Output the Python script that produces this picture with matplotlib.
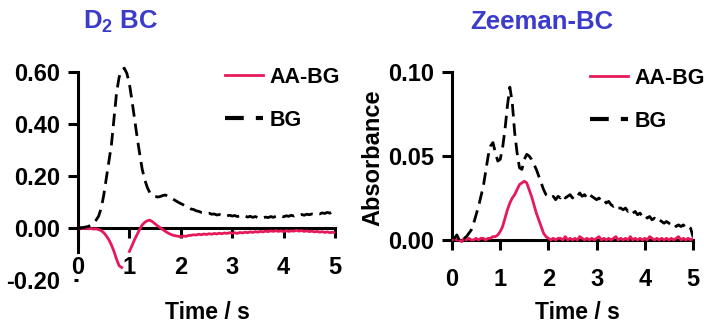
import numpy as np
import matplotlib
matplotlib.use("Agg")
import matplotlib.pyplot as plt

plt.rcParams["font.family"] = ["Liberation Sans", "DejaVu Sans"]
plt.rcParams["font.weight"] = "bold"
plt.rcParams["mathtext.fontset"] = "custom"
plt.rcParams["mathtext.rm"] = "Liberation Sans:bold"
plt.rcParams["mathtext.bf"] = "Liberation Sans:bold"

# ---- data -------------------------------------------------------------
time_s = np.linspace(0.0, 5.0, 101)          # 0.05 s sampling
time_ticks = [0, 1, 2, 3, 4, 5]

# D2 background correction
d2_bg = [
    0.000, 0.001, 0.002, 0.004, 0.006, 0.011, 0.019, 0.030, 0.045, 0.075,
    0.125, 0.190, 0.255, 0.320, 0.420, 0.520, 0.580, 0.605, 0.615, 0.595,
    0.555, 0.490, 0.420, 0.350, 0.285, 0.225, 0.185, 0.155, 0.135, 0.125,
    0.122, 0.119, 0.121, 0.125, 0.127, 0.122, 0.119, 0.111, 0.105, 0.099,
    0.094, 0.089, 0.083, 0.080, 0.073, 0.071, 0.066, 0.064, 0.060, 0.059,
    0.056, 0.057, 0.053, 0.054, 0.050, 0.052, 0.048, 0.051, 0.047, 0.049,
    0.046, 0.048, 0.044, 0.047, 0.043, 0.046, 0.042, 0.045, 0.041, 0.044,
    0.040, 0.043, 0.039, 0.042, 0.040, 0.044, 0.041, 0.045, 0.042, 0.046,
    0.043, 0.047, 0.045, 0.049, 0.046, 0.050, 0.048, 0.052, 0.049, 0.053,
    0.051, 0.054, 0.052, 0.056, 0.054, 0.058, 0.056, 0.060, 0.057, 0.062,
    0.060,
]
d2_aa = [
    0.000, 0.000, -0.002, -0.001, -0.003, -0.002, -0.004, -0.003, -0.006, -0.010,
    -0.018, -0.030, -0.045, -0.065, -0.090, -0.120, -0.145, -0.152, np.nan, np.nan,
    -0.090, -0.068, -0.045, -0.025, -0.005, 0.012, 0.022, 0.028, 0.030, 0.024,
    0.016, 0.008, 0.001, -0.006, -0.013, -0.019, -0.024, -0.028, -0.030, -0.032,
    -0.033, -0.031, -0.032, -0.029, -0.028, -0.026, -0.027, -0.024, -0.026, -0.023,
    -0.025, -0.022, -0.024, -0.021, -0.023, -0.020, -0.022, -0.019, -0.021, -0.018,
    -0.020, -0.018, -0.021, -0.017, -0.019, -0.016, -0.018, -0.015, -0.017, -0.014,
    -0.016, -0.013, -0.015, -0.012, -0.014, -0.011, -0.013, -0.010, -0.013, -0.011,
    -0.014, -0.010, -0.013, -0.011, -0.012, -0.009, -0.012, -0.010, -0.013, -0.011,
    -0.014, -0.012, -0.015, -0.013, -0.016, -0.014, -0.017, -0.015, -0.018, -0.016,
    -0.019,
]

# Zeeman background correction
zee_bg = [
    0.002, 0.001, 0.003, 0.000, 0.002, 0.001, 0.002, 0.004, 0.006, 0.010,
    0.015, 0.020, 0.026, 0.032, 0.041, 0.050, 0.056, 0.058, 0.052, 0.047,
    0.048, 0.055, 0.066, 0.080, 0.091, 0.082, 0.064, 0.052, 0.043, 0.042,
    0.048, 0.051, 0.050, 0.048, 0.045, 0.042, 0.038, 0.034, 0.030, 0.027,
    0.026, 0.025, 0.026, 0.024, 0.026, 0.025, 0.027, 0.025, 0.026, 0.027,
    0.025, 0.027, 0.026, 0.028, 0.026, 0.027, 0.025, 0.027, 0.026, 0.025,
    0.024, 0.025, 0.023, 0.024, 0.022, 0.023, 0.021, 0.020, 0.021, 0.019,
    0.019, 0.018, 0.019, 0.017, 0.018, 0.016, 0.017, 0.015, 0.016, 0.014,
    0.015, 0.013, 0.014, 0.012, 0.013, 0.011, 0.012, 0.011, 0.010, 0.011,
    0.010, 0.009, 0.010, 0.008, 0.009, 0.008, 0.009, 0.007, 0.008, 0.007,
    0.002,
]
zee_aa = [
    0.000, 0.001, 0.000, 0.000, -0.001, 0.001, 0.000, 0.001, 0.000, 0.000,
    0.001, 0.000, 0.001, 0.001, 0.000, 0.001, 0.001, 0.002, 0.002, 0.003,
    0.005, 0.008, 0.013, 0.018, 0.022, 0.025, 0.027, 0.030, 0.033, 0.034,
    0.035, 0.034, 0.030, 0.026, 0.021, 0.016, 0.012, 0.008, 0.004, 0.002,
    0.001, 0.000, 0.001, 0.000, 0.001, 0.001, 0.000, 0.002, 0.000, 0.001,
    0.000, 0.001, 0.000, 0.002, 0.001, 0.000, 0.001, 0.000, 0.001, 0.000,
    0.001, 0.002, 0.000, 0.001, 0.000, 0.001, 0.000, 0.001, 0.002, 0.000,
    0.001, 0.000, 0.001, 0.000, 0.002, 0.000, 0.001, 0.000, 0.001, 0.000,
    0.001, 0.000, 0.002, 0.001, 0.000, 0.001, 0.000, 0.001, 0.000, 0.001,
    0.000, 0.001, 0.000, 0.001, 0.002, 0.000, 0.001, 0.000, 0.001, 0.000,
    0.001,
]

d2_yticks = [-0.2, 0.0, 0.2, 0.4, 0.6]
d2_ylabels = ["-0.20", "0.00", "0.20", "0.40", "0.60"]
zee_yticks = [0.0, 0.05, 0.10]
zee_ylabels = ["0.00", "0.05", "0.10"]

RED = "#e6195a"
BLUE = "#3b3bcc"
FS_TICK = 17
FS_LEG = 15.5
FS_TITLE = 18.5
FS_LABEL = 16.5

# ---- figure -----------------------------------------------------------
W, H = 704, 324
fig = plt.figure(figsize=(W / 100, H / 100), dpi=100)


def axes_px(x0, x1, ytop, ybot):
    return fig.add_axes([x0 / W, 1 - ybot / H, (x1 - x0) / W, (ybot - ytop) / H])


ax_l = axes_px(78, 335, 64.2, 280)
ax_r = axes_px(452, 693, 67, 246.7)
ax_l.set_ylim(-0.2, 0.63)
ax_r.set_ylim(-0.004, 0.103)


def style(ax, yticks, ylabels, ybounds):
    ax.set_xlim(0, 5)
    ax.patch.set_alpha(0)
    for s in ("top", "right"):
        ax.spines[s].set_visible(False)
    for s in ("left", "bottom"):
        ax.spines[s].set_linewidth(2.2)
    ax.spines["bottom"].set_position(("data", 0))
    ax.spines["bottom"].set_bounds(0, 5)
    ax.spines["left"].set_bounds(*ybounds)
    ax.set_xticks(time_ticks)
    ax.set_xticklabels([str(v) for v in time_ticks])
    ax.set_yticks(yticks)
    ax.set_yticklabels(ylabels)
    ax.tick_params(axis="both", width=2.2, length=7, labelsize=FS_TICK)
    ax.tick_params(axis="x", pad=13)
    ax.tick_params(axis="y", pad=6)


style(ax_l, d2_yticks, d2_ylabels, (-0.092, 0.6))
style(ax_r, zee_yticks, zee_ylabels, (0.0, 0.1))
ax_l.yaxis.get_major_ticks()[0].tick1line.set_markersize(3)


def draw(ax, aa, bg, legend_xy):
    l1, = ax.plot(time_s, aa, color=RED, lw=2.0, zorder=3, label="AA-BG")
    l2, = ax.plot(time_s, bg, color="black", lw=2.0, dashes=(4.5, 2.5),
                  zorder=3, label="BG")
    leg = ax.legend(handles=[l1, l2], loc="upper left",
                    bbox_to_anchor=(legend_xy[0] / W, 1 - legend_xy[1] / H),
                    bbox_transform=fig.transFigure, frameon=False,
                    fontsize=FS_LEG, handlelength=1.75, handletextpad=0.3,
                    labelspacing=1.0, borderpad=0, borderaxespad=0)
    hl = leg.get_lines()[1]
    hl.set_linewidth(3)
    hl.set_dashes((4.5, 2.9))


draw(ax_l, d2_aa, d2_bg, (225, 67))
draw(ax_r, zee_aa, zee_bg, (590, 68))

fig.text(83 / W, 1 - 29 / H, r"$\mathbf{D_2}$ BC", color=BLUE, fontsize=FS_TITLE,
         ha="left", va="baseline")
fig.text(470 / W, 1 - 29 / H, "Zeeman-BC", color=BLUE, fontsize=FS_TITLE,
         ha="left", va="baseline")
fig.text(207 / W, 1 - 319 / H, "Time / s", fontsize=FS_LABEL, ha="center",
         va="baseline")
fig.text(577 / W, 1 - 319 / H, "Time / s", fontsize=FS_LABEL, ha="center",
         va="baseline")
fig.text(373 / W, 1 - 158 / H, "Absorbance", fontsize=FS_TICK, rotation=90,
         ha="center", va="center")

fig.savefig("out.png", dpi=100)
